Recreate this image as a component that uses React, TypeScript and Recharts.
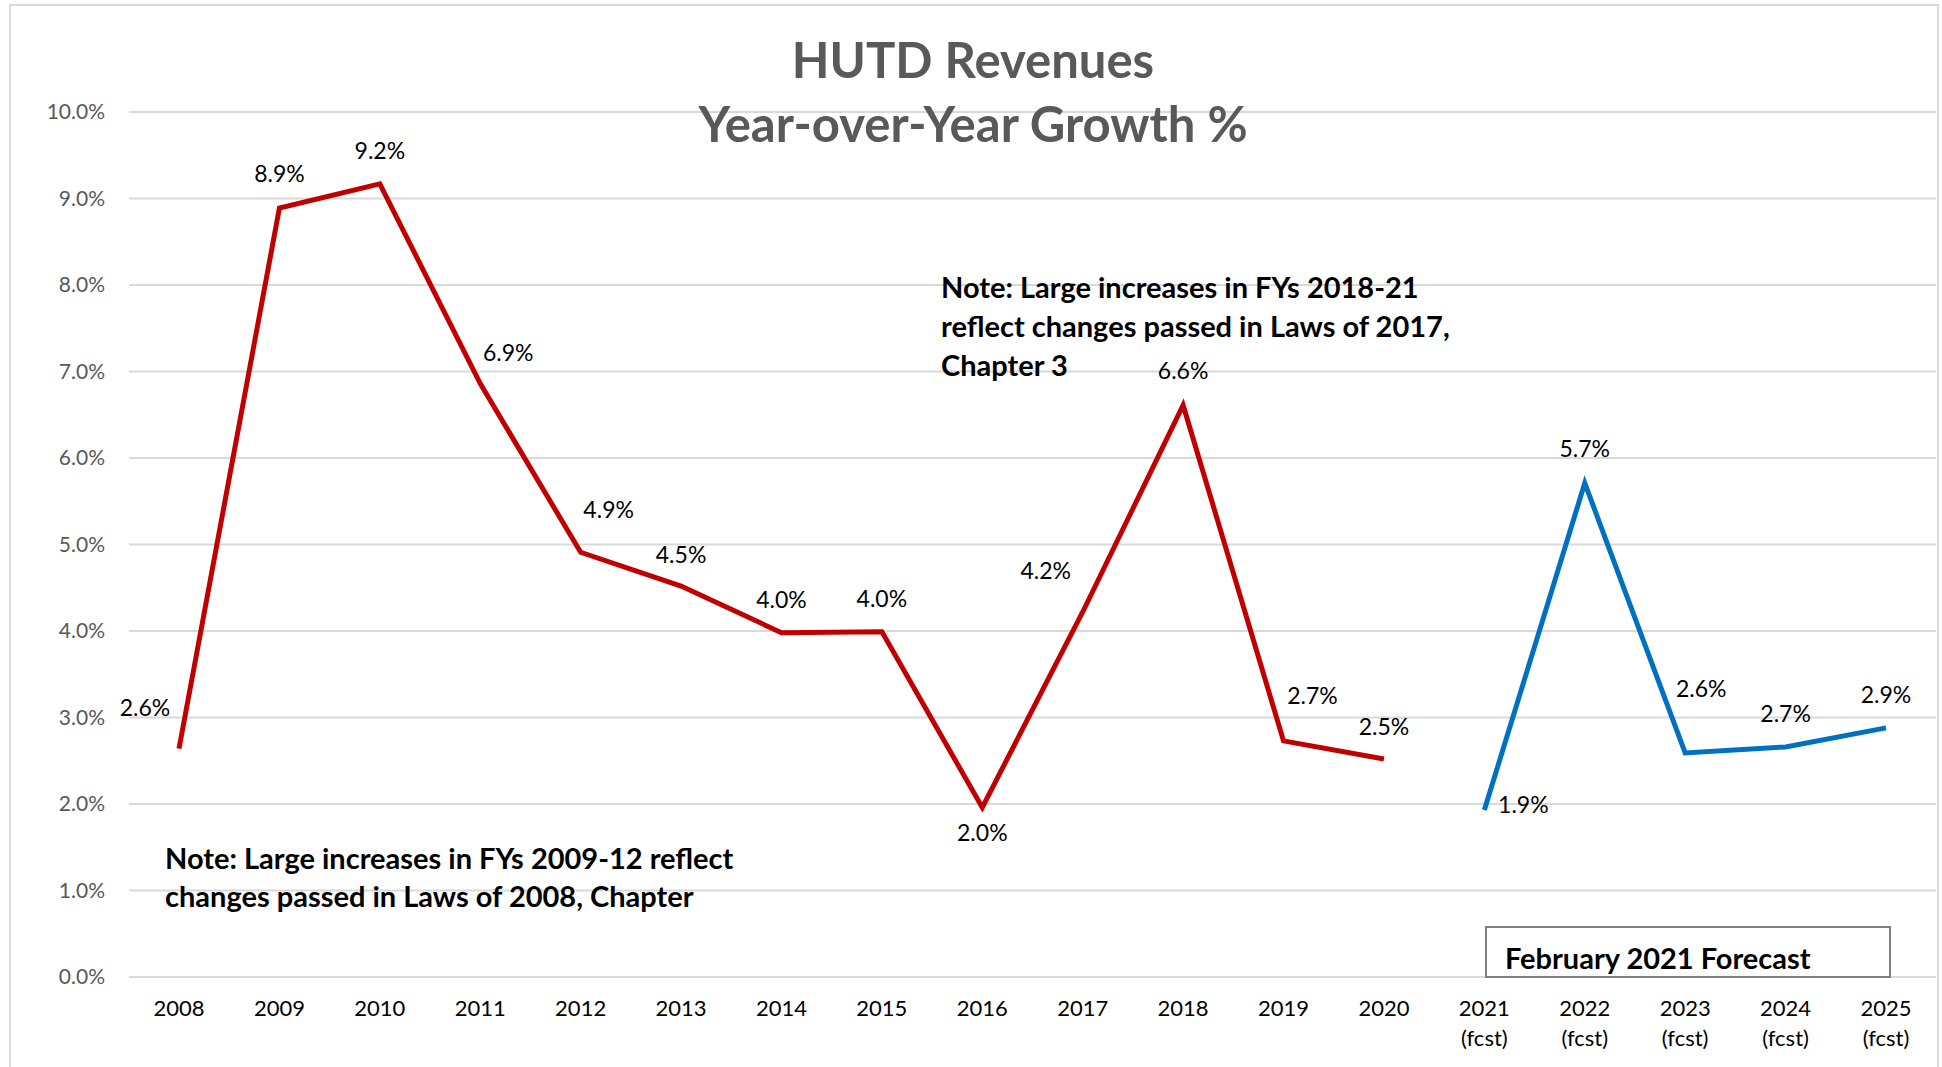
import React from "react";
import {
  CartesianGrid,
  Line,
  LineChart,
  XAxis,
  YAxis,
} from "recharts";

const categories = [
  "2008", "2009", "2010", "2011", "2012", "2013", "2014", "2015", "2016",
  "2017", "2018", "2019", "2020",
  "2021 (fcst)", "2022 (fcst)", "2023 (fcst)", "2024 (fcst)", "2025 (fcst)",
];

// actual growth %, FY 2008-2020
const actual = [2.64, 8.89, 9.17, 6.86, 4.91, 4.52, 3.98, 3.99, 1.96, 4.22, 6.61, 2.73, 2.52];
// forecast growth %, FY 2021-2025
const forecast = [1.93, 5.71, 2.59, 2.66, 2.88];

const yTicks = [0, 1, 2, 3, 4, 5, 6, 7, 8, 9, 10];

const titleLines = ["HUTD Revenues", "Year-over-Year Growth %"];
const note1 = [
  "Note: Large increases in FYs 2009-12 reflect",
  "changes passed in Laws of 2008, Chapter",
];
const note2 = [
  "Note: Large increases in FYs 2018-21",
  "reflect changes passed in Laws of 2017,",
  "Chapter 3",
];
const boxLabel = "February 2021 Forecast";

// where each data label sits relative to its point [dx, dy]
const labelOffsets: [number, number][] = [
  [-34, -42], [0, -35], [0, -34], [28, -32], [28, -43], [0, -32], [0, -34],
  [0, -34], [0, 25], [-37, -42], [0, -35], [29, -46], [0, -33],
  [39, -6], [0, -35], [16, -65], [0, -34], [0, -34],
];

const data = categories.map((c, i) => ({
  year: c,
  actual: i < actual.length ? actual[i] : null,
  forecast: i >= actual.length ? forecast[i - actual.length] : null,
}));

const FONT = "Lato, 'Open Sans', sans-serif";

function renderLabel(props: any) {
  const { x, y, value, index } = props;
  if (value === null || value === undefined) return null;
  const [dx, dy] = labelOffsets[index] || [0, -30];
  return (
    <text
      key={"lbl" + index}
      x={x + dx}
      y={y + dy}
      textAnchor="middle"
      dominantBaseline="central"
      fontFamily={FONT}
      fontSize={23}
      fill="#000"
    >
      {Number(value).toFixed(1)}%
    </text>
  );
}

function XTick(props: any) {
  const { x, y, payload } = props;
  const parts = String(payload.value).split(" ");
  return (
    <g>
      {parts.map((p, i) => (
        <text
          key={i}
          x={x}
          y={y + 22 + i * 30}
          textAnchor="middle"
          dominantBaseline="central"
          fontFamily={FONT}
          fontSize={22}
          fill="#000"
        >
          {p}
        </text>
      ))}
    </g>
  );
}

export default function App() {
  return (
    <div style={{ position: "absolute", left: 0, top: 0, width: 1942, height: 1067, background: "#fff" }}>
      <LineChart
        width={1942}
        height={1067}
        data={data}
        margin={{ top: 112, right: 6, bottom: 0, left: 0 }}
      >
        <CartesianGrid vertical={false} stroke="#d9d9d9" strokeWidth={2} />
        <XAxis
          dataKey="year"
          height={90}
          axisLine={false}
          tickLine={false}
          interval={0}
          padding={{ left: 50, right: 50 }}
          tick={<XTick />}
        />
        <YAxis
          width={129}
          domain={[0, 10]}
          ticks={yTicks}
          axisLine={false}
          tickLine={false}
          tickMargin={18}
          tickFormatter={(v: number) => v.toFixed(1) + "%"}
          tick={{ fontFamily: FONT, fontSize: 21, fill: "#595959" }}
        />
        <Line
          dataKey="actual"
          stroke="#C00000"
          strokeWidth={5}
          dot={false}
          connectNulls={false}
          isAnimationActive={false}
          label={renderLabel}
        />
        <Line
          dataKey="forecast"
          stroke="#0070C0"
          strokeWidth={5}
          dot={false}
          connectNulls={false}
          isAnimationActive={false}
          label={renderLabel}
        />
      </LineChart>
      <svg
        width={1942}
        height={1067}
        style={{ position: "absolute", left: 0, top: 0, pointerEvents: "none" }}
      >
        <rect x={10} y={5} width={1928} height={1080} fill="none" stroke="#d9d9d9" strokeWidth={2} />
        {titleLines.map((t, i) => (
          <text
            key={t}
            x={973}
            y={59 + i * 64}
            textAnchor="middle"
            dominantBaseline="central"
            fontFamily={FONT}
            fontWeight="bold"
            fontSize={49}
            fill="#595959"
          >
            {t}
          </text>
        ))}
        {note1.map((t, i) => (
          <text
            key={t}
            x={165}
            y={857 + i * 38}
            dominantBaseline="central"
            fontFamily={FONT}
            fontWeight="bold"
            fontSize={29}
            fill="#000"
          >
            {t}
          </text>
        ))}
        {note2.map((t, i) => (
          <text
            key={t}
            x={941}
            y={286 + i * 39}
            dominantBaseline="central"
            fontFamily={FONT}
            fontWeight="bold"
            fontSize={29}
            fill="#000"
          >
            {t}
          </text>
        ))}
        <rect x={1486} y={927} width={404} height={50} fill="#fff" stroke="#7f7f7f" strokeWidth={2} />
        <text
          x={1505}
          y={957}
          dominantBaseline="central"
          fontFamily={FONT}
          fontWeight="bold"
          fontSize={29}
          fill="#000"
        >
          {boxLabel}
        </text>
      </svg>
    </div>
  );
}
